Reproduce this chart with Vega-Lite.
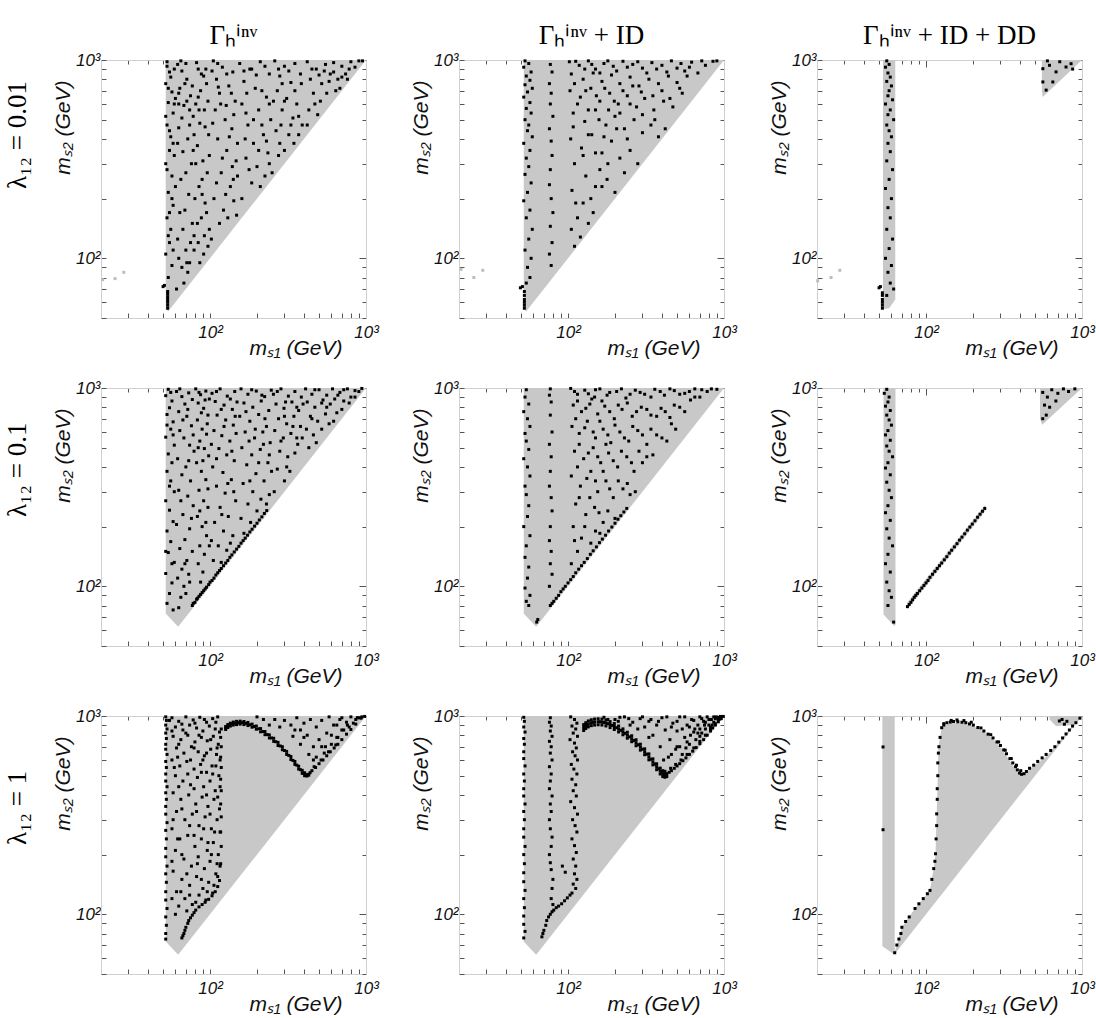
{
"$schema":"https://vega.github.io/schema/vega-lite/v6.json",
"background":"white",
"padding":{"left":4,"top":22,"right":5,"bottom":5},
"config":{"view":{"stroke":null},"axis":{"grid":false,"domainColor":"#d0d0d0","tickColor":"#555","labelFont":"Liberation Sans","labelFontStyle":"italic","labelFontSize":17,"labelColor":"#111","titleFont":"Liberation Sans","titleFontStyle":"italic","titleFontWeight":"normal","titleFontSize":21,"titleColor":"#111","labelOverlap":false,"labelFlush":false,"labelBound":false}},
"data":{"values":[
{"p":1,"a":1,"x":52,"lo":55.5,"hi":1000},{"p":1,"a":1,"x":54,"lo":54,"hi":1000},{"p":1,"a":1,"x":1000,"lo":1000,"hi":1000},
{"p":2,"a":1,"x":52,"lo":55.5,"hi":1000},{"p":2,"a":1,"x":54,"lo":54,"hi":1000},{"p":2,"a":1,"x":1000,"lo":1000,"hi":1000},
{"p":3,"a":1,"x":53,"lo":55.5,"hi":1000},{"p":3,"a":1,"x":58,"lo":56,"hi":1000},{"p":3,"a":1,"x":63.5,"lo":62,"hi":1000},
{"p":3,"a":2,"x":553,"lo":700,"hi":1000},{"p":3,"a":2,"x":560,"lo":650,"hi":1000},{"p":3,"a":2,"x":1000,"lo":1000,"hi":1000},
{"p":4,"a":1,"x":52,"lo":73,"hi":1000},{"p":4,"a":1,"x":62.5,"lo":62.5,"hi":1000},{"p":4,"a":1,"x":1000,"lo":1000,"hi":1000},
{"p":5,"a":1,"x":52,"lo":73,"hi":1000},{"p":5,"a":1,"x":62.5,"lo":62.5,"hi":1000},{"p":5,"a":1,"x":1000,"lo":1000,"hi":1000},
{"p":6,"a":1,"x":53.4,"lo":72,"hi":1000},{"p":6,"a":1,"x":62.5,"lo":63,"hi":1000},{"p":6,"a":1,"x":63.7,"lo":64,"hi":1000},
{"p":6,"a":2,"x":76,"lo":76.5,"hi":83},{"p":6,"a":2,"x":240,"lo":240,"hi":258},
{"p":6,"a":3,"x":538,"lo":700,"hi":1000},{"p":6,"a":3,"x":556,"lo":652,"hi":1000},{"p":6,"a":3,"x":1000,"lo":1000,"hi":1000},
{"p":7,"a":1,"x":52,"lo":73,"hi":1000},{"p":7,"a":1,"x":62.5,"lo":62.5,"hi":1000},{"p":7,"a":1,"x":1000,"lo":1000,"hi":1000},
{"p":8,"a":1,"x":52,"lo":73,"hi":1000},{"p":8,"a":1,"x":62.5,"lo":62.5,"hi":1000},{"p":8,"a":1,"x":1000,"lo":1000,"hi":1000},
{"p":9,"a":1,"x":52.5,"lo":69,"hi":1000},{"p":9,"a":1,"x":62,"lo":63,"hi":1000},{"p":9,"a":1,"x":63,"lo":64,"hi":1000},
{"p":9,"a":2,"x":62,"lo":62,"hi":62},{"p":9,"a":2,"x":67,"lo":67,"hi":76},{"p":9,"a":2,"x":70,"lo":70,"hi":86},{"p":9,"a":2,"x":85,"lo":85,"hi":107},{"p":9,"a":2,"x":106,"lo":106,"hi":132},{"p":9,"a":2,"x":112,"lo":112,"hi":170},{"p":9,"a":2,"x":115,"lo":115,"hi":202},{"p":9,"a":2,"x":117,"lo":117,"hi":321},{"p":9,"a":2,"x":119,"lo":119,"hi":500},{"p":9,"a":2,"x":120,"lo":120,"hi":693},{"p":9,"a":2,"x":126,"lo":126,"hi":873},{"p":9,"a":2,"x":143,"lo":143,"hi":925},{"p":9,"a":2,"x":170,"lo":170,"hi":920},{"p":9,"a":2,"x":201,"lo":201,"hi":891},{"p":9,"a":2,"x":235,"lo":235,"hi":830},{"p":9,"a":2,"x":269,"lo":269,"hi":764},{"p":9,"a":2,"x":300,"lo":300,"hi":695},{"p":9,"a":2,"x":328,"lo":328,"hi":629},{"p":9,"a":2,"x":360,"lo":360,"hi":565},{"p":9,"a":2,"x":398,"lo":398,"hi":509},{"p":9,"a":2,"x":415,"lo":415,"hi":505},{"p":9,"a":2,"x":461,"lo":461,"hi":540},{"p":9,"a":2,"x":589,"lo":589,"hi":625},{"p":9,"a":2,"x":751,"lo":751,"hi":775},{"p":9,"a":2,"x":914,"lo":914,"hi":930},{"p":9,"a":2,"x":1000,"lo":1000,"hi":1000},
{"p":9,"a":3,"x":620,"lo":960,"hi":1000},{"p":9,"a":3,"x":680,"lo":890,"hi":1000},{"p":9,"a":3,"x":900,"lo":900,"hi":1000},{"p":9,"a":3,"x":1000,"lo":1000,"hi":1000},
{"p":1,"x":20.5,"y":78,"g":1},{"p":1,"x":24.6,"y":79,"g":1},{"p":1,"x":28,"y":85,"g":1},
{"p":2,"x":20.6,"y":88,"g":1},{"p":2,"x":24.9,"y":80,"g":1},{"p":2,"x":28.4,"y":87,"g":1},
{"p":3,"x":20.2,"y":77,"g":1},{"p":3,"x":24.6,"y":80,"g":1},{"p":3,"x":28,"y":87,"g":1},
{"p":1,"x":53,"y":980},{"p":1,"x":55,"y":870},{"p":1,"x":52,"y":760},{"p":1,"x":57,"y":690},{"p":1,"x":54,"y":610},{"p":1,"x":58,"y":540},{"p":1,"x":53,"y":470},{"p":1,"x":56,"y":410},{"p":1,"x":55,"y":350},{"p":1,"x":52,"y":300},{"p":1,"x":57,"y":260},{"p":1,"x":54,"y":215},{"p":1,"x":58,"y":185},{"p":1,"x":53,"y":160},{"p":1,"x":56,"y":140},{"p":1,"x":55,"y":120},{"p":1,"x":52,"y":105},{"p":1,"x":57,"y":92},{"p":1,"x":54,"y":80},
{"p":1,"x":53.5,"y":56},{"p":1,"x":53.5,"y":58},{"p":1,"x":53.5,"y":60},{"p":1,"x":53.5,"y":62},{"p":1,"x":53.5,"y":64},{"p":1,"x":53.5,"y":66},{"p":1,"x":53.5,"y":68},{"p":1,"x":50,"y":72},{"p":1,"x":51,"y":73},
{"p":1,"x":62,"y":950},{"p":1,"x":66,"y":880},{"p":1,"x":71,"y":800},{"p":1,"x":64,"y":720},{"p":1,"x":75,"y":660},{"p":1,"x":68,"y":590},{"p":1,"x":78,"y":520},{"p":1,"x":63,"y":455},{"p":1,"x":72,"y":400},{"p":1,"x":67,"y":345},{"p":1,"x":76,"y":300},{"p":1,"x":65,"y":250},{"p":1,"x":73,"y":210},{"p":1,"x":69,"y":175},{"p":1,"x":77,"y":150},{"p":1,"x":62,"y":125},{"p":1,"x":70,"y":110},{"p":1,"x":66,"y":90},{"p":1,"x":74,"y":95},{"p":1,"x":79,"y":130},{"p":1,"x":61,"y":70},{"p":1,"x":68,"y":75},{"p":1,"x":72,"y":85},
{"p":1,"x":82,"y":970},{"p":1,"x":88,"y":850},{"p":1,"x":95,"y":760},{"p":1,"x":84,"y":650},{"p":1,"x":92,"y":560},{"p":1,"x":86,"y":480},{"p":1,"x":98,"y":420},{"p":1,"x":83,"y":370},{"p":1,"x":90,"y":310},{"p":1,"x":96,"y":270},{"p":1,"x":85,"y":230},{"p":1,"x":93,"y":190},{"p":1,"x":88,"y":160},{"p":1,"x":99,"y":140},{"p":1,"x":84,"y":120},{"p":1,"x":91,"y":105},{"p":1,"x":97,"y":115},{"p":1,"x":86,"y":95},
{"p":1,"x":105,"y":990},{"p":1,"x":120,"y":920},{"p":1,"x":140,"y":870},{"p":1,"x":110,"y":800},{"p":1,"x":132,"y":740},{"p":1,"x":115,"y":680},{"p":1,"x":145,"y":620},{"p":1,"x":108,"y":560},{"p":1,"x":125,"y":500},{"p":1,"x":138,"y":450},{"p":1,"x":112,"y":400},{"p":1,"x":128,"y":350},{"p":1,"x":147,"y":310},{"p":1,"x":118,"y":270},{"p":1,"x":135,"y":230},{"p":1,"x":106,"y":200},{"p":1,"x":122,"y":175},{"p":1,"x":142,"y":195},{"p":1,"x":115,"y":150},{"p":1,"x":130,"y":160},{"p":1,"x":102,"y":125},{"p":1,"x":148,"y":165},
{"p":1,"x":155,"y":960},{"p":1,"x":180,"y":900},{"p":1,"x":210,"y":980},{"p":1,"x":240,"y":850},{"p":1,"x":165,"y":780},{"p":1,"x":195,"y":720},{"p":1,"x":230,"y":650},{"p":1,"x":160,"y":600},{"p":1,"x":205,"y":560},{"p":1,"x":245,"y":500},{"p":1,"x":175,"y":470},{"p":1,"x":220,"y":420},{"p":1,"x":190,"y":380},{"p":1,"x":235,"y":340},{"p":1,"x":170,"y":320},{"p":1,"x":200,"y":290},{"p":1,"x":225,"y":260},{"p":1,"x":185,"y":240},{"p":1,"x":160,"y":200},{"p":1,"x":210,"y":230},{"p":1,"x":240,"y":300},{"p":1,"x":250,"y":270},
{"p":1,"x":260,"y":990},{"p":1,"x":300,"y":930},{"p":1,"x":350,"y":960},{"p":1,"x":280,"y":830},{"p":1,"x":330,"y":770},{"p":1,"x":380,"y":850},{"p":1,"x":270,"y":700},{"p":1,"x":310,"y":640},{"p":1,"x":360,"y":600},{"p":1,"x":290,"y":560},{"p":1,"x":340,"y":510},{"p":1,"x":390,"y":470},{"p":1,"x":265,"y":440},{"p":1,"x":320,"y":420},{"p":1,"x":370,"y":420},{"p":1,"x":300,"y":350},{"p":1,"x":345,"y":380},{"p":1,"x":275,"y":330},
{"p":1,"x":420,"y":980},{"p":1,"x":480,"y":900},{"p":1,"x":550,"y":950},{"p":1,"x":440,"y":800},{"p":1,"x":520,"y":760},{"p":1,"x":590,"y":850},{"p":1,"x":460,"y":680},{"p":1,"x":510,"y":620},{"p":1,"x":430,"y":560},{"p":1,"x":560,"y":680},{"p":1,"x":490,"y":530},{"p":1,"x":420,"y":470},
{"p":1,"x":620,"y":970},{"p":1,"x":700,"y":930},{"p":1,"x":800,"y":980},{"p":1,"x":900,"y":990},{"p":1,"x":660,"y":800},{"p":1,"x":740,"y":850},{"p":1,"x":640,"y":700},{"p":1,"x":680,"y":720},{"p":1,"x":850,"y":920},{"p":1,"x":760,"y":800},
{"p":1,"x":59,"y":900},{"p":1,"x":60,"y":640},{"p":1,"x":59,"y":330},{"p":1,"x":60,"y":230},{"p":1,"x":58,"y":110},{"p":1,"x":63,"y":600},{"p":1,"x":70,"y":960},{"p":1,"x":74,"y":560},{"p":1,"x":79,"y":420},{"p":1,"x":81,"y":600},{"p":1,"x":87,"y":700},{"p":1,"x":94,"y":900},{"p":1,"x":99,"y":330},{"p":1,"x":89,"y":250},{"p":1,"x":80,"y":200},{"p":1,"x":64,"y":170},{"p":1,"x":103,"y":880},{"p":1,"x":117,"y":600},{"p":1,"x":133,"y":410},{"p":1,"x":150,"y":380},{"p":1,"x":170,"y":540},{"p":1,"x":185,"y":900},{"p":1,"x":215,"y":700},{"p":1,"x":255,"y":620},{"p":1,"x":285,"y":470},{"p":1,"x":150,"y":260},
{"p":1,"x":53,"y":930},{"p":1,"x":56,"y":820},{"p":1,"x":54,"y":720},{"p":1,"x":59,"y":600},{"p":1,"x":52,"y":520},{"p":1,"x":55,"y":440},{"p":1,"x":58,"y":380},{"p":1,"x":53,"y":280},{"p":1,"x":57,"y":200},{"p":1,"x":55,"y":170},{"p":1,"x":54,"y":130},
{"p":1,"x":65,"y":990},{"p":1,"x":69,"y":760},{"p":1,"x":63,"y":680},{"p":1,"x":77,"y":740},{"p":1,"x":71,"y":620},{"p":1,"x":66,"y":510},{"p":1,"x":74,"y":470},{"p":1,"x":62,"y":380},{"p":1,"x":70,"y":270},{"p":1,"x":78,"y":350},{"p":1,"x":67,"y":140},{"p":1,"x":75,"y":120},{"p":1,"x":63,"y":100},{"p":1,"x":71,"y":95},{"p":1,"x":79,"y":110},
{"p":1,"x":84,"y":900},{"p":1,"x":91,"y":830},{"p":1,"x":97,"y":620},{"p":1,"x":85,"y":560},{"p":1,"x":93,"y":460},{"p":1,"x":81,"y":300},{"p":1,"x":89,"y":210},{"p":1,"x":95,"y":170},{"p":1,"x":83,"y":150},{"p":1,"x":92,"y":130},
{"p":1,"x":112,"y":960},{"p":1,"x":128,"y":850},{"p":1,"x":113,"y":730},{"p":1,"x":137,"y":680},{"p":1,"x":104,"y":480},{"p":1,"x":127,"y":590},{"p":1,"x":142,"y":530},{"p":1,"x":120,"y":320},{"p":1,"x":139,"y":290},{"p":1,"x":110,"y":240},{"p":1,"x":126,"y":210},{"p":1,"x":141,"y":250},
{"p":1,"x":165,"y":880},{"p":1,"x":198,"y":840},{"p":1,"x":225,"y":930},{"p":1,"x":172,"y":680},{"p":1,"x":240,"y":600},{"p":1,"x":190,"y":500},{"p":1,"x":215,"y":470},{"p":1,"x":168,"y":400},{"p":1,"x":205,"y":350},{"p":1,"x":178,"y":280},{"p":1,"x":230,"y":390},
{"p":1,"x":275,"y":900},{"p":1,"x":320,"y":880},{"p":1,"x":290,"y":760},{"p":1,"x":350,"y":700},{"p":1,"x":385,"y":760},{"p":1,"x":300,"y":620},{"p":1,"x":330,"y":470},{"p":1,"x":370,"y":520},{"p":1,"x":280,"y":380},
{"p":1,"x":450,"y":900},{"p":1,"x":500,"y":840},{"p":1,"x":580,"y":780},{"p":1,"x":540,"y":880},{"p":1,"x":470,"y":600},{"p":1,"x":620,"y":870},{"p":1,"x":700,"y":820},{"p":1,"x":780,"y":900},{"p":1,"x":950,"y":990},
{"p":2,"x":53,"y":990},{"p":2,"x":56,"y":960},{"p":2,"x":52,"y":920},{"p":2,"x":58,"y":870},{"p":2,"x":54,"y":830},{"p":2,"x":57,"y":790},{"p":2,"x":53,"y":750},{"p":2,"x":59,"y":720},{"p":2,"x":55,"y":690},{"p":2,"x":52,"y":650},{"p":2,"x":57,"y":610},{"p":2,"x":54,"y":570},{"p":2,"x":58,"y":540},{"p":2,"x":53,"y":500},{"p":2,"x":56,"y":470},{"p":2,"x":55,"y":440},{"p":2,"x":59,"y":410},{"p":2,"x":52,"y":380},{"p":2,"x":57,"y":350},{"p":2,"x":54,"y":320},{"p":2,"x":56,"y":290},{"p":2,"x":53,"y":265},{"p":2,"x":58,"y":240},{"p":2,"x":55,"y":215},{"p":2,"x":52,"y":195},{"p":2,"x":57,"y":175},{"p":2,"x":54,"y":160},{"p":2,"x":59,"y":140},{"p":2,"x":56,"y":125},{"p":2,"x":53,"y":110},{"p":2,"x":58,"y":100},{"p":2,"x":55,"y":90},{"p":2,"x":57,"y":80},{"p":2,"x":54,"y":75},
{"p":2,"x":52.5,"y":56},{"p":2,"x":52.5,"y":58},{"p":2,"x":52.5,"y":60},{"p":2,"x":52.5,"y":62},{"p":2,"x":52.5,"y":65},{"p":2,"x":52.5,"y":68},{"p":2,"x":51,"y":72},{"p":2,"x":49.5,"y":71},
{"p":2,"x":77,"y":950},{"p":2,"x":79,"y":870},{"p":2,"x":76,"y":760},{"p":2,"x":78,"y":680},{"p":2,"x":77,"y":600},{"p":2,"x":80,"y":520},{"p":2,"x":76,"y":450},{"p":2,"x":78,"y":390},{"p":2,"x":79,"y":330},{"p":2,"x":77,"y":280},{"p":2,"x":76,"y":235},{"p":2,"x":78,"y":200},{"p":2,"x":80,"y":170},{"p":2,"x":77,"y":145},{"p":2,"x":79,"y":120},{"p":2,"x":76,"y":105},{"p":2,"x":78,"y":92},
{"p":2,"x":102,"y":980},{"p":2,"x":118,"y":940},{"p":2,"x":135,"y":990},{"p":2,"x":150,"y":900},{"p":2,"x":170,"y":960},{"p":2,"x":195,"y":930},{"p":2,"x":225,"y":985},{"p":2,"x":260,"y":950},{"p":2,"x":300,"y":910},{"p":2,"x":345,"y":970},{"p":2,"x":400,"y":940},{"p":2,"x":460,"y":990},{"p":2,"x":530,"y":960},{"p":2,"x":620,"y":975},{"p":2,"x":720,"y":990},{"p":2,"x":850,"y":985},
{"p":2,"x":105,"y":850},{"p":2,"x":125,"y":800},{"p":2,"x":145,"y":860},{"p":2,"x":165,"y":780},{"p":2,"x":190,"y":840},{"p":2,"x":215,"y":760},{"p":2,"x":250,"y":820},{"p":2,"x":285,"y":740},{"p":2,"x":330,"y":800},{"p":2,"x":380,"y":760},{"p":2,"x":440,"y":830},{"p":2,"x":500,"y":770},{"p":2,"x":580,"y":830},{"p":2,"x":680,"y":860},
{"p":2,"x":103,"y":700},{"p":2,"x":120,"y":650},{"p":2,"x":140,"y":720},{"p":2,"x":160,"y":620},{"p":2,"x":185,"y":680},{"p":2,"x":210,"y":600},{"p":2,"x":240,"y":660},{"p":2,"x":275,"y":580},{"p":2,"x":310,"y":640},{"p":2,"x":355,"y":560},{"p":2,"x":410,"y":620},{"p":2,"x":470,"y":580},{"p":2,"x":540,"y":680},
{"p":2,"x":108,"y":540},{"p":2,"x":128,"y":490},{"p":2,"x":150,"y":560},{"p":2,"x":175,"y":470},{"p":2,"x":200,"y":520},{"p":2,"x":230,"y":450},{"p":2,"x":265,"y":500},{"p":2,"x":300,"y":430},{"p":2,"x":340,"y":470},{"p":2,"x":380,"y":410},{"p":2,"x":420,"y":450},
{"p":2,"x":104,"y":400},{"p":2,"x":122,"y":360},{"p":2,"x":142,"y":420},{"p":2,"x":165,"y":340},{"p":2,"x":190,"y":390},{"p":2,"x":215,"y":320},{"p":2,"x":250,"y":350},{"p":2,"x":280,"y":300},{"p":2,"x":160,"y":280},
{"p":2,"x":110,"y":300},{"p":2,"x":130,"y":260},{"p":2,"x":150,"y":230},{"p":2,"x":178,"y":250},{"p":2,"x":200,"y":215},{"p":2,"x":106,"y":220},{"p":2,"x":125,"y":190},{"p":2,"x":145,"y":170},{"p":2,"x":115,"y":160},{"p":2,"x":135,"y":150},{"p":2,"x":105,"y":140},{"p":2,"x":120,"y":128},{"p":2,"x":110,"y":115},
{"p":2,"x":112,"y":985},{"p":2,"x":128,"y":900},{"p":2,"x":142,"y":950},{"p":2,"x":160,"y":860},{"p":2,"x":180,"y":990},{"p":2,"x":205,"y":880},{"p":2,"x":240,"y":920},{"p":2,"x":280,"y":980},{"p":2,"x":320,"y":860},{"p":2,"x":370,"y":900},{"p":2,"x":430,"y":870},{"p":2,"x":500,"y":910},{"p":2,"x":560,"y":880},{"p":2,"x":600,"y":920},{"p":2,"x":760,"y":940},{"p":2,"x":900,"y":990},
{"p":2,"x":110,"y":760},{"p":2,"x":130,"y":700},{"p":2,"x":152,"y":660},{"p":2,"x":172,"y":720},{"p":2,"x":198,"y":620},{"p":2,"x":225,"y":700},{"p":2,"x":260,"y":740},{"p":2,"x":295,"y":690},{"p":2,"x":350,"y":660},{"p":2,"x":400,"y":700},{"p":2,"x":450,"y":640},{"p":2,"x":520,"y":720},
{"p":2,"x":115,"y":600},{"p":2,"x":135,"y":560},{"p":2,"x":158,"y":500},{"p":2,"x":182,"y":560},{"p":2,"x":215,"y":540},{"p":2,"x":250,"y":600},{"p":2,"x":300,"y":530},{"p":2,"x":360,"y":500},
{"p":2,"x":108,"y":460},{"p":2,"x":135,"y":420},{"p":2,"x":170,"y":410},{"p":2,"x":205,"y":450},{"p":2,"x":240,"y":400},{"p":2,"x":125,"y":330},{"p":2,"x":150,"y":340},{"p":2,"x":180,"y":300},{"p":2,"x":230,"y":270},{"p":2,"x":112,"y":190},{"p":2,"x":140,"y":200},{"p":2,"x":165,"y":230},
{"p":3,"x":56,"y":990},{"p":3,"x":58,"y":950},{"p":3,"x":55,"y":920},{"p":3,"x":57,"y":860},{"p":3,"x":59,"y":820},{"p":3,"x":56,"y":780},{"p":3,"x":60,"y":740},{"p":3,"x":58,"y":700},{"p":3,"x":57,"y":660},{"p":3,"x":61,"y":630},{"p":3,"x":55,"y":600},{"p":3,"x":59,"y":560},{"p":3,"x":57,"y":530},{"p":3,"x":62,"y":500},{"p":3,"x":56,"y":470},{"p":3,"x":58,"y":440},{"p":3,"x":60,"y":410},{"p":3,"x":57,"y":380},{"p":3,"x":59,"y":345},{"p":3,"x":56,"y":310},{"p":3,"x":61,"y":280},{"p":3,"x":58,"y":250},{"p":3,"x":55,"y":225},{"p":3,"x":60,"y":200},{"p":3,"x":57,"y":180},{"p":3,"x":59,"y":160},{"p":3,"x":56,"y":140},{"p":3,"x":61,"y":125},{"p":3,"x":58,"y":112},{"p":3,"x":55,"y":100},{"p":3,"x":60,"y":92},{"p":3,"x":57,"y":85},{"p":3,"x":59,"y":75},{"p":3,"x":62,"y":70},{"p":3,"x":56,"y":65},
{"p":3,"x":52.5,"y":56},{"p":3,"x":52.5,"y":58},{"p":3,"x":52.5,"y":60},{"p":3,"x":52.5,"y":62},{"p":3,"x":52.5,"y":65},{"p":3,"x":52.5,"y":67},{"p":3,"x":51,"y":72},{"p":3,"x":50,"y":71},
{"p":3,"x":561,"y":904},{"p":3,"x":619,"y":940},{"p":3,"x":682,"y":871},{"p":3,"x":790,"y":922},{"p":3,"x":851,"y":958},{"p":3,"x":650,"y":775},{"p":3,"x":871,"y":900},{"p":3,"x":561,"y":775},{"p":3,"x":589,"y":705},{"p":3,"x":600,"y":990},{"p":3,"x":720,"y":980},
{"p":4,"x":54,"y":985},{"p":4,"x":52,"y":915},{"p":4,"x":57,"y":860},{"p":4,"x":55,"y":795},{"p":4,"x":53,"y":735},{"p":4,"x":58,"y":675},{"p":4,"x":56,"y":620},{"p":4,"x":52,"y":565},{"p":4,"x":59,"y":515},{"p":4,"x":54,"y":465},{"p":4,"x":57,"y":420},{"p":4,"x":53,"y":380},{"p":4,"x":56,"y":340},{"p":4,"x":59,"y":300},{"p":4,"x":52,"y":270},{"p":4,"x":55,"y":242},{"p":4,"x":58,"y":212},{"p":4,"x":53,"y":190},{"p":4,"x":56,"y":168},{"p":4,"x":54,"y":148},{"p":4,"x":59,"y":132},{"p":4,"x":52,"y":116},{"p":4,"x":57,"y":104},{"p":4,"x":55,"y":92},{"p":4,"x":53,"y":82},{"p":4,"x":58,"y":76},
{"p":4,"x":61,"y":960},{"p":4,"x":66,"y":905},{"p":4,"x":73,"y":945},{"p":4,"x":69,"y":830},{"p":4,"x":77,"y":875},{"p":4,"x":63,"y":760},{"p":4,"x":71,"y":720},{"p":4,"x":76,"y":645},{"p":4,"x":64,"y":610},{"p":4,"x":68,"y":560},{"p":4,"x":74,"y":515},{"p":4,"x":79,"y":480},{"p":4,"x":62,"y":440},{"p":4,"x":70,"y":400},{"p":4,"x":66,"y":365},{"p":4,"x":75,"y":340},{"p":4,"x":63,"y":305},{"p":4,"x":72,"y":285},{"p":4,"x":78,"y":255},{"p":4,"x":67,"y":230},{"p":4,"x":61,"y":205},{"p":4,"x":74,"y":195},{"p":4,"x":69,"y":172},{"p":4,"x":64,"y":155},{"p":4,"x":77,"y":150},{"p":4,"x":71,"y":135},{"p":4,"x":66,"y":122},{"p":4,"x":62,"y":110},{"p":4,"x":73,"y":115},{"p":4,"x":68,"y":100},{"p":4,"x":65,"y":88},{"p":4,"x":70,"y":92},{"p":4,"x":63,"y":78},
{"p":4,"x":81,"y":990},{"p":4,"x":87,"y":925},{"p":4,"x":94,"y":965},{"p":4,"x":99,"y":880},{"p":4,"x":84,"y":840},{"p":4,"x":91,"y":790},{"p":4,"x":97,"y":730},{"p":4,"x":83,"y":690},{"p":4,"x":89,"y":620},{"p":4,"x":95,"y":585},{"p":4,"x":86,"y":540},{"p":4,"x":92,"y":495},{"p":4,"x":98,"y":455},{"p":4,"x":82,"y":420},{"p":4,"x":88,"y":380},{"p":4,"x":94,"y":345},{"p":4,"x":85,"y":305},{"p":4,"x":91,"y":270},{"p":4,"x":97,"y":250},{"p":4,"x":83,"y":225},{"p":4,"x":89,"y":200},{"p":4,"x":95,"y":180},{"p":4,"x":86,"y":160},{"p":4,"x":92,"y":145},{"p":4,"x":84,"y":130},{"p":4,"x":90,"y":118},{"p":4,"x":87,"y":105},
{"p":4,"x":103,"y":940},{"p":4,"x":116,"y":990},{"p":4,"x":129,"y":910},{"p":4,"x":144,"y":960},{"p":4,"x":108,"y":855},{"p":4,"x":123,"y":820},{"p":4,"x":139,"y":780},{"p":4,"x":149,"y":850},{"p":4,"x":111,"y":730},{"p":4,"x":126,"y":690},{"p":4,"x":141,"y":650},{"p":4,"x":106,"y":610},{"p":4,"x":119,"y":575},{"p":4,"x":134,"y":540},{"p":4,"x":147,"y":590},{"p":4,"x":114,"y":495},{"p":4,"x":128,"y":460},{"p":4,"x":143,"y":430},{"p":4,"x":104,"y":400},{"p":4,"x":121,"y":375},{"p":4,"x":137,"y":345},{"p":4,"x":110,"y":320},{"p":4,"x":125,"y":295},{"p":4,"x":146,"y":270},{"p":4,"x":116,"y":250},{"p":4,"x":131,"y":225},{"p":4,"x":107,"y":210},{"p":4,"x":122,"y":190},{"p":4,"x":140,"y":180},{"p":4,"x":113,"y":160},{"p":4,"x":128,"y":152},{"p":4,"x":105,"y":135},{"p":4,"x":118,"y":132},{"p":4,"x":135,"y":165},
{"p":4,"x":158,"y":990},{"p":4,"x":175,"y":930},{"p":4,"x":198,"y":965},{"p":4,"x":224,"y":905},{"p":4,"x":247,"y":975},{"p":4,"x":165,"y":840},{"p":4,"x":188,"y":800},{"p":4,"x":213,"y":860},{"p":4,"x":238,"y":770},{"p":4,"x":155,"y":720},{"p":4,"x":180,"y":680},{"p":4,"x":205,"y":735},{"p":4,"x":230,"y":640},{"p":4,"x":168,"y":600},{"p":4,"x":193,"y":560},{"p":4,"x":218,"y":600},{"p":4,"x":243,"y":530},{"p":4,"x":160,"y":500},{"p":4,"x":185,"y":460},{"p":4,"x":210,"y":490},{"p":4,"x":235,"y":420},{"p":4,"x":172,"y":410},{"p":4,"x":197,"y":370},{"p":4,"x":222,"y":340},{"p":4,"x":248,"y":380},{"p":4,"x":163,"y":330},{"p":4,"x":188,"y":300},{"p":4,"x":212,"y":275},{"p":4,"x":240,"y":290},{"p":4,"x":175,"y":260},{"p":4,"x":200,"y":240},{"p":4,"x":158,"y":220},{"p":4,"x":182,"y":210},{"p":4,"x":165,"y":185},
{"p":4,"x":255,"y":930},{"p":4,"x":285,"y":990},{"p":4,"x":318,"y":910},{"p":4,"x":350,"y":960},{"p":4,"x":385,"y":900},{"p":4,"x":265,"y":830},{"p":4,"x":298,"y":790},{"p":4,"x":335,"y":850},{"p":4,"x":370,"y":770},{"p":4,"x":395,"y":830},{"p":4,"x":275,"y":700},{"p":4,"x":310,"y":660},{"p":4,"x":345,"y":720},{"p":4,"x":380,"y":640},{"p":4,"x":260,"y":610},{"p":4,"x":295,"y":560},{"p":4,"x":330,"y":590},{"p":4,"x":365,"y":520},{"p":4,"x":390,"y":560},{"p":4,"x":280,"y":480},{"p":4,"x":315,"y":450},{"p":4,"x":350,"y":470},{"p":4,"x":270,"y":390},{"p":4,"x":300,"y":340},{"p":4,"x":325,"y":380},{"p":4,"x":258,"y":300},
{"p":4,"x":410,"y":990},{"p":4,"x":450,"y":930},{"p":4,"x":500,"y":980},{"p":4,"x":560,"y":920},{"p":4,"x":420,"y":850},{"p":4,"x":470,"y":800},{"p":4,"x":530,"y":870},{"p":4,"x":590,"y":830},{"p":4,"x":440,"y":720},{"p":4,"x":490,"y":680},{"p":4,"x":550,"y":740},{"p":4,"x":415,"y":620},{"p":4,"x":460,"y":580},{"p":4,"x":520,"y":620},{"p":4,"x":580,"y":660},{"p":4,"x":430,"y":500},{"p":4,"x":480,"y":530},
{"p":4,"x":610,"y":990},{"p":4,"x":680,"y":950},{"p":4,"x":760,"y":990},{"p":4,"x":850,"y":970},{"p":4,"x":940,"y":995},{"p":4,"x":630,"y":880},{"p":4,"x":720,"y":860},{"p":4,"x":800,"y":900},{"p":4,"x":900,"y":960},{"p":4,"x":650,"y":750},{"p":4,"x":700,"y":780},{"p":4,"x":620,"y":680},{"p":4,"x":780,"y":840},
{"p":4,"x":56,"y":950},{"p":4,"x":53,"y":650},{"p":4,"x":58,"y":580},{"p":4,"x":55,"y":320},{"p":4,"x":52,"y":150},{"p":4,"x":57,"y":130},
{"p":4,"x":64,"y":990},{"p":4,"x":72,"y":780},{"p":4,"x":67,"y":690},{"p":4,"x":78,"y":580},{"p":4,"x":73,"y":430},{"p":4,"x":65,"y":270},{"p":4,"x":76,"y":220},{"p":4,"x":69,"y":130},{"p":4,"x":74,"y":105},
{"p":4,"x":85,"y":950},{"p":4,"x":93,"y":870},{"p":4,"x":88,"y":750},{"p":4,"x":96,"y":660},{"p":4,"x":84,"y":500},{"p":4,"x":90,"y":430},{"p":4,"x":97,"y":310},{"p":4,"x":86,"y":240},{"p":4,"x":94,"y":210},{"p":4,"x":99,"y":160},
{"p":4,"x":110,"y":960},{"p":4,"x":135,"y":880},{"p":4,"x":118,"y":780},{"p":4,"x":145,"y":720},{"p":4,"x":123,"y":640},{"p":4,"x":102,"y":520},{"p":4,"x":138,"y":480},{"p":4,"x":110,"y":440},{"p":4,"x":130,"y":330},{"p":4,"x":142,"y":300},{"p":4,"x":119,"y":230},{"p":4,"x":102,"y":170},
{"p":4,"x":185,"y":980},{"p":4,"x":215,"y":920},{"p":4,"x":170,"y":760},{"p":4,"x":225,"y":700},{"p":4,"x":195,"y":620},{"p":4,"x":178,"y":540},{"p":4,"x":220,"y":520},{"p":4,"x":240,"y":460},{"p":4,"x":205,"y":420},{"p":4,"x":180,"y":340},{"p":4,"x":230,"y":260},
{"p":4,"x":270,"y":960},{"p":4,"x":305,"y":850},{"p":4,"x":360,"y":800},{"p":4,"x":300,"y":720},{"p":4,"x":340,"y":640},{"p":4,"x":285,"y":540},{"p":4,"x":360,"y":560},{"p":4,"x":310,"y":400},
{"p":4,"x":470,"y":980},{"p":4,"x":520,"y":840},{"p":4,"x":450,"y":700},{"p":4,"x":560,"y":800},{"p":4,"x":660,"y":920},{"p":4,"x":720,"y":980},{"p":4,"x":850,"y":900},
{"p":4,"x":77,"y":80},{"p":4,"x":78,"y":82},{"p":4,"x":80,"y":83},{"p":4,"x":82,"y":86},{"p":4,"x":83,"y":87},{"p":4,"x":85,"y":89},{"p":4,"x":87,"y":91},{"p":4,"x":89,"y":93},{"p":4,"x":91,"y":95},{"p":4,"x":93,"y":97},{"p":4,"x":95,"y":99},{"p":4,"x":98,"y":102},{"p":4,"x":100,"y":105},{"p":4,"x":103,"y":107},{"p":4,"x":106,"y":110},{"p":4,"x":109,"y":114},{"p":4,"x":112,"y":117},{"p":4,"x":115,"y":120},{"p":4,"x":118,"y":123},{"p":4,"x":122,"y":127},{"p":4,"x":126,"y":131},{"p":4,"x":130,"y":135},{"p":4,"x":134,"y":140},{"p":4,"x":138,"y":144},{"p":4,"x":143,"y":149},{"p":4,"x":148,"y":154},{"p":4,"x":153,"y":159},{"p":4,"x":158,"y":165},{"p":4,"x":163,"y":170},{"p":4,"x":168,"y":175},{"p":4,"x":174,"y":181},{"p":4,"x":180,"y":188},{"p":4,"x":186,"y":194},{"p":4,"x":193,"y":201},{"p":4,"x":200,"y":208},{"p":4,"x":207,"y":216},{"p":4,"x":215,"y":224},{"p":4,"x":223,"y":233},{"p":4,"x":231,"y":241},
{"p":5,"x":54,"y":980},{"p":5,"x":53,"y":900},{"p":5,"x":56,"y":830},{"p":5,"x":52,"y":760},{"p":5,"x":55,"y":700},{"p":5,"x":57,"y":640},{"p":5,"x":53,"y":590},{"p":5,"x":54,"y":540},{"p":5,"x":56,"y":490},{"p":5,"x":52,"y":440},{"p":5,"x":55,"y":400},{"p":5,"x":57,"y":360},{"p":5,"x":53,"y":320},{"p":5,"x":54,"y":290},{"p":5,"x":56,"y":255},{"p":5,"x":55,"y":225},{"p":5,"x":52,"y":200},{"p":5,"x":57,"y":180},{"p":5,"x":54,"y":160},{"p":5,"x":53,"y":140},{"p":5,"x":56,"y":125},{"p":5,"x":55,"y":110},{"p":5,"x":53,"y":98},{"p":5,"x":57,"y":90},{"p":5,"x":54,"y":84},{"p":5,"x":56,"y":80},{"p":5,"x":63,"y":66},{"p":5,"x":64,"y":68},
{"p":5,"x":77,"y":990},{"p":5,"x":76,"y":920},{"p":5,"x":78,"y":850},{"p":5,"x":77,"y":730},{"p":5,"x":79,"y":600},{"p":5,"x":76,"y":520},{"p":5,"x":78,"y":450},{"p":5,"x":77,"y":380},{"p":5,"x":76,"y":320},{"p":5,"x":78,"y":280},{"p":5,"x":79,"y":240},{"p":5,"x":77,"y":200},{"p":5,"x":76,"y":170},{"p":5,"x":78,"y":150},{"p":5,"x":77,"y":130},{"p":5,"x":79,"y":115},{"p":5,"x":76,"y":100},
{"p":5,"x":104,"y":995},{"p":5,"x":115,"y":930},{"p":5,"x":128,"y":975},{"p":5,"x":142,"y":880},{"p":5,"x":160,"y":990},{"p":5,"x":178,"y":920},{"p":5,"x":205,"y":960},{"p":5,"x":235,"y":890},{"p":5,"x":270,"y":975},{"p":5,"x":310,"y":930},{"p":5,"x":360,"y":985},{"p":5,"x":415,"y":920},{"p":5,"x":480,"y":970},{"p":5,"x":560,"y":940},{"p":5,"x":650,"y":990},{"p":5,"x":780,"y":960},{"p":5,"x":900,"y":985},
{"p":5,"x":108,"y":820},{"p":5,"x":122,"y":760},{"p":5,"x":138,"y":830},{"p":5,"x":155,"y":740},{"p":5,"x":172,"y":810},{"p":5,"x":198,"y":700},{"p":5,"x":222,"y":780},{"p":5,"x":258,"y":720},{"p":5,"x":295,"y":800},{"p":5,"x":340,"y":730},{"p":5,"x":395,"y":790},{"p":5,"x":450,"y":710},{"p":5,"x":520,"y":800},{"p":5,"x":610,"y":870},{"p":5,"x":700,"y":900},
{"p":5,"x":106,"y":640},{"p":5,"x":118,"y":590},{"p":5,"x":133,"y":680},{"p":5,"x":150,"y":560},{"p":5,"x":168,"y":620},{"p":5,"x":188,"y":530},{"p":5,"x":215,"y":600},{"p":5,"x":245,"y":540},{"p":5,"x":280,"y":610},{"p":5,"x":320,"y":520},{"p":5,"x":370,"y":580},{"p":5,"x":430,"y":540},{"p":5,"x":490,"y":620},
{"p":5,"x":110,"y":480},{"p":5,"x":126,"y":440},{"p":5,"x":145,"y":500},{"p":5,"x":162,"y":420},{"p":5,"x":182,"y":470},{"p":5,"x":208,"y":400},{"p":5,"x":238,"y":450},{"p":5,"x":265,"y":380},{"p":5,"x":300,"y":420},{"p":5,"x":350,"y":460},
{"p":5,"x":105,"y":360},{"p":5,"x":120,"y":320},{"p":5,"x":140,"y":380},{"p":5,"x":155,"y":300},{"p":5,"x":175,"y":340},{"p":5,"x":195,"y":280},{"p":5,"x":225,"y":310},{"p":5,"x":250,"y":290},
{"p":5,"x":112,"y":260},{"p":5,"x":130,"y":230},{"p":5,"x":148,"y":250},{"p":5,"x":168,"y":210},{"p":5,"x":108,"y":200},{"p":5,"x":122,"y":175},{"p":5,"x":140,"y":165},{"p":5,"x":115,"y":150},{"p":5,"x":105,"y":130},{"p":5,"x":160,"y":185},
{"p":5,"x":110,"y":960},{"p":5,"x":135,"y":935},{"p":5,"x":150,"y":980},{"p":5,"x":185,"y":950},{"p":5,"x":220,"y":990},{"p":5,"x":250,"y":930},{"p":5,"x":290,"y":950},{"p":5,"x":340,"y":900},{"p":5,"x":390,"y":960},{"p":5,"x":450,"y":990},{"p":5,"x":520,"y":930},{"p":5,"x":600,"y":960},{"p":5,"x":720,"y":980},{"p":5,"x":830,"y":990},
{"p":5,"x":115,"y":860},{"p":5,"x":130,"y":790},{"p":5,"x":148,"y":900},{"p":5,"x":165,"y":860},{"p":5,"x":185,"y":760},{"p":5,"x":210,"y":820},{"p":5,"x":240,"y":840},{"p":5,"x":275,"y":760},{"p":5,"x":320,"y":780},{"p":5,"x":370,"y":720},{"p":5,"x":420,"y":760},{"p":5,"x":480,"y":820},{"p":5,"x":560,"y":760},{"p":5,"x":650,"y":900},
{"p":5,"x":112,"y":700},{"p":5,"x":128,"y":630},{"p":5,"x":145,"y":600},{"p":5,"x":160,"y":680},{"p":5,"x":180,"y":580},{"p":5,"x":200,"y":650},{"p":5,"x":230,"y":560},{"p":5,"x":260,"y":640},{"p":5,"x":300,"y":580},{"p":5,"x":340,"y":620},{"p":5,"x":400,"y":560},{"p":5,"x":460,"y":660},
{"p":5,"x":118,"y":520},{"p":5,"x":135,"y":470},{"p":5,"x":155,"y":450},{"p":5,"x":175,"y":520},{"p":5,"x":195,"y":430},{"p":5,"x":220,"y":480},{"p":5,"x":255,"y":420},{"p":5,"x":285,"y":480},{"p":5,"x":320,"y":450},
{"p":5,"x":115,"y":400},{"p":5,"x":132,"y":350},{"p":5,"x":150,"y":340},{"p":5,"x":168,"y":380},{"p":5,"x":185,"y":310},{"p":5,"x":210,"y":340},{"p":5,"x":240,"y":330},{"p":5,"x":270,"y":300},
{"p":5,"x":118,"y":280},{"p":5,"x":138,"y":280},{"p":5,"x":158,"y":235},{"p":5,"x":180,"y":240},{"p":5,"x":200,"y":220},{"p":5,"x":128,"y":200},{"p":5,"x":150,"y":190},{"p":5,"x":110,"y":170},
{"p":5,"x":77,"y":80},{"p":5,"x":79,"y":82},{"p":5,"x":81,"y":84},{"p":5,"x":84,"y":87},{"p":5,"x":87,"y":90},{"p":5,"x":90,"y":94},{"p":5,"x":93,"y":97},{"p":5,"x":96,"y":100},{"p":5,"x":100,"y":104},{"p":5,"x":104,"y":108},{"p":5,"x":108,"y":112},{"p":5,"x":112,"y":117},{"p":5,"x":117,"y":122},{"p":5,"x":122,"y":127},{"p":5,"x":127,"y":132},{"p":5,"x":133,"y":138},{"p":5,"x":139,"y":145},{"p":5,"x":145,"y":151},{"p":5,"x":152,"y":158},{"p":5,"x":159,"y":166},{"p":5,"x":166,"y":173},{"p":5,"x":174,"y":181},{"p":5,"x":182,"y":190},{"p":5,"x":191,"y":199},{"p":5,"x":200,"y":208},{"p":5,"x":209,"y":218},{"p":5,"x":218,"y":227},{"p":5,"x":228,"y":237},{"p":5,"x":238,"y":247},
{"p":6,"x":56,"y":985},{"p":6,"x":54,"y":940},{"p":6,"x":58,"y":900},{"p":6,"x":57,"y":850},{"p":6,"x":55,"y":810},{"p":6,"x":59,"y":770},{"p":6,"x":56,"y":730},{"p":6,"x":58,"y":690},{"p":6,"x":60,"y":650},{"p":6,"x":57,"y":610},{"p":6,"x":55,"y":580},{"p":6,"x":59,"y":545},{"p":6,"x":56,"y":510},{"p":6,"x":58,"y":480},{"p":6,"x":61,"y":450},{"p":6,"x":57,"y":420},{"p":6,"x":55,"y":395},{"p":6,"x":59,"y":365},{"p":6,"x":56,"y":335},{"p":6,"x":58,"y":305},{"p":6,"x":60,"y":280},{"p":6,"x":57,"y":255},{"p":6,"x":55,"y":235},{"p":6,"x":59,"y":215},{"p":6,"x":56,"y":195},{"p":6,"x":58,"y":175},{"p":6,"x":61,"y":160},{"p":6,"x":57,"y":145},{"p":6,"x":55,"y":130},{"p":6,"x":59,"y":118},{"p":6,"x":56,"y":105},{"p":6,"x":58,"y":95},{"p":6,"x":60,"y":88},{"p":6,"x":57,"y":80},{"p":6,"x":62,"y":66},
{"p":6,"x":76,"y":79},{"p":6,"x":78,"y":81},{"p":6,"x":80,"y":83},{"p":6,"x":82,"y":85.5},{"p":6,"x":84,"y":88},{"p":6,"x":86,"y":90},{"p":6,"x":88,"y":92},{"p":6,"x":91,"y":95},{"p":6,"x":94,"y":98},{"p":6,"x":97,"y":101},{"p":6,"x":100,"y":104},{"p":6,"x":103,"y":107},{"p":6,"x":106,"y":111},{"p":6,"x":110,"y":115},{"p":6,"x":114,"y":119},{"p":6,"x":118,"y":123},{"p":6,"x":122,"y":127},{"p":6,"x":126,"y":131},{"p":6,"x":131,"y":136},{"p":6,"x":136,"y":141},{"p":6,"x":141,"y":147},{"p":6,"x":146,"y":152},{"p":6,"x":152,"y":158},{"p":6,"x":158,"y":164},{"p":6,"x":164,"y":171},{"p":6,"x":170,"y":177},{"p":6,"x":177,"y":184},{"p":6,"x":184,"y":192},{"p":6,"x":191,"y":199},{"p":6,"x":198,"y":206},{"p":6,"x":206,"y":214},{"p":6,"x":214,"y":223},{"p":6,"x":222,"y":231},{"p":6,"x":230,"y":239},{"p":6,"x":238,"y":247},
{"p":6,"x":560,"y":950},{"p":6,"x":600,"y":900},{"p":6,"x":640,"y":980},{"p":6,"x":700,"y":940},{"p":6,"x":760,"y":990},{"p":6,"x":820,"y":960},{"p":6,"x":575,"y":820},{"p":6,"x":620,"y":800},{"p":6,"x":590,"y":730},{"p":6,"x":560,"y":700},{"p":6,"x":900,"y":990},{"p":6,"x":680,"y":860},
{"p":7,"x":52,"y":990},{"p":7,"x":52.5,"y":950},{"p":7,"x":52,"y":900},{"p":7,"x":53,"y":860},{"p":7,"x":52,"y":820},{"p":7,"x":52.5,"y":770},{"p":7,"x":52,"y":720},{"p":7,"x":52,"y":680},{"p":7,"x":53,"y":640},{"p":7,"x":52,"y":590},{"p":7,"x":52.5,"y":550},{"p":7,"x":52,"y":510},{"p":7,"x":52,"y":470},{"p":7,"x":53,"y":440},{"p":7,"x":52,"y":410},{"p":7,"x":52.5,"y":380},{"p":7,"x":52,"y":350},{"p":7,"x":52,"y":320},{"p":7,"x":53,"y":290},{"p":7,"x":52,"y":265},{"p":7,"x":52.5,"y":240},{"p":7,"x":52,"y":215},{"p":7,"x":52,"y":195},{"p":7,"x":53,"y":175},{"p":7,"x":52,"y":160},{"p":7,"x":52.5,"y":145},{"p":7,"x":52,"y":130},{"p":7,"x":52,"y":118},{"p":7,"x":53,"y":107},{"p":7,"x":52,"y":97},{"p":7,"x":52.5,"y":88},{"p":7,"x":52,"y":80},{"p":7,"x":52,"y":75},
{"p":7,"x":57,"y":980},{"p":7,"x":63,"y":940},{"p":7,"x":70,"y":990},{"p":7,"x":78,"y":955},{"p":7,"x":86,"y":985},{"p":7,"x":95,"y":930},{"p":7,"x":104,"y":970},{"p":7,"x":112,"y":990},
{"p":7,"x":60,"y":880},{"p":7,"x":67,"y":850},{"p":7,"x":74,"y":900},{"p":7,"x":82,"y":870},{"p":7,"x":90,"y":840},{"p":7,"x":99,"y":890},{"p":7,"x":108,"y":860},{"p":7,"x":115,"y":830},
{"p":7,"x":58,"y":790},{"p":7,"x":65,"y":760},{"p":7,"x":72,"y":800},{"p":7,"x":80,"y":740},{"p":7,"x":88,"y":780},{"p":7,"x":96,"y":750},{"p":7,"x":105,"y":790},{"p":7,"x":113,"y":720},
{"p":7,"x":61,"y":690},{"p":7,"x":68,"y":650},{"p":7,"x":76,"y":700},{"p":7,"x":84,"y":660},{"p":7,"x":92,"y":630},{"p":7,"x":101,"y":680},{"p":7,"x":110,"y":640},{"p":7,"x":116,"y":600},
{"p":7,"x":57,"y":600},{"p":7,"x":64,"y":560},{"p":7,"x":71,"y":590},{"p":7,"x":79,"y":540},{"p":7,"x":87,"y":570},{"p":7,"x":95,"y":520},{"p":7,"x":103,"y":560},{"p":7,"x":114,"y":500},
{"p":7,"x":60,"y":500},{"p":7,"x":67,"y":470},{"p":7,"x":75,"y":450},{"p":7,"x":83,"y":490},{"p":7,"x":91,"y":440},{"p":7,"x":100,"y":470},{"p":7,"x":108,"y":420},{"p":7,"x":116,"y":440},
{"p":7,"x":58,"y":410},{"p":7,"x":65,"y":380},{"p":7,"x":73,"y":400},{"p":7,"x":81,"y":360},{"p":7,"x":89,"y":390},{"p":7,"x":97,"y":350},{"p":7,"x":106,"y":380},{"p":7,"x":115,"y":340},
{"p":7,"x":61,"y":330},{"p":7,"x":69,"y":300},{"p":7,"x":77,"y":320},{"p":7,"x":85,"y":280},{"p":7,"x":93,"y":310},{"p":7,"x":102,"y":270},{"p":7,"x":111,"y":300},{"p":7,"x":116,"y":260},
{"p":7,"x":57,"y":270},{"p":7,"x":64,"y":240},{"p":7,"x":72,"y":250},{"p":7,"x":80,"y":220},{"p":7,"x":88,"y":240},{"p":7,"x":96,"y":210},{"p":7,"x":105,"y":230},{"p":7,"x":113,"y":200},
{"p":7,"x":60,"y":210},{"p":7,"x":68,"y":190},{"p":7,"x":76,"y":175},{"p":7,"x":84,"y":195},{"p":7,"x":92,"y":170},{"p":7,"x":100,"y":185},{"p":7,"x":109,"y":160},{"p":7,"x":116,"y":175},
{"p":7,"x":58,"y":165},{"p":7,"x":66,"y":150},{"p":7,"x":74,"y":140},{"p":7,"x":82,"y":155},{"p":7,"x":90,"y":135},{"p":7,"x":98,"y":145},{"p":7,"x":104,"y":128},{"p":7,"x":112,"y":155},
{"p":7,"x":61,"y":130},{"p":7,"x":69,"y":120},{"p":7,"x":77,"y":112},{"p":7,"x":85,"y":125},{"p":7,"x":94,"y":118},{"p":7,"x":63,"y":110},{"p":7,"x":71,"y":104},{"p":7,"x":60,"y":100},
{"p":7,"x":55,"y":950},{"p":7,"x":66,"y":910},{"p":7,"x":80,"y":920},{"p":7,"x":92,"y":960},{"p":7,"x":109,"y":930},{"p":7,"x":57,"y":840},{"p":7,"x":70,"y":820},{"p":7,"x":85,"y":800},{"p":7,"x":101,"y":760},{"p":7,"x":63,"y":720},{"p":7,"x":79,"y":690},{"p":7,"x":95,"y":650},{"p":7,"x":111,"y":690},{"p":7,"x":62,"y":620},{"p":7,"x":75,"y":600},{"p":7,"x":90,"y":600},{"p":7,"x":109,"y":560},{"p":7,"x":59,"y":550},{"p":7,"x":72,"y":510},{"p":7,"x":88,"y":520},{"p":7,"x":104,"y":510},{"p":7,"x":63,"y":440},{"p":7,"x":79,"y":430},{"p":7,"x":95,"y":400},{"p":7,"x":112,"y":390},{"p":7,"x":66,"y":340},{"p":7,"x":82,"y":330},{"p":7,"x":100,"y":320},{"p":7,"x":58,"y":300},{"p":7,"x":74,"y":280},{"p":7,"x":91,"y":270},{"p":7,"x":107,"y":260},{"p":7,"x":62,"y":240},{"p":7,"x":79,"y":250},{"p":7,"x":97,"y":230},{"p":7,"x":66,"y":200},{"p":7,"x":83,"y":180},{"p":7,"x":102,"y":200},{"p":7,"x":111,"y":180},{"p":7,"x":57,"y":185},{"p":7,"x":71,"y":160},{"p":7,"x":88,"y":150},{"p":7,"x":96,"y":130},{"p":7,"x":65,"y":130},{"p":7,"x":81,"y":115},{"p":7,"x":106,"y":140},{"p":7,"x":57,"y":120},{"p":7,"x":74,"y":125},
{"p":7,"x":66,"y":76},{"p":7,"x":67,"y":78},{"p":7,"x":68,"y":80},{"p":7,"x":69,"y":83},{"p":7,"x":70,"y":86},{"p":7,"x":72,"y":90},{"p":7,"x":73,"y":93},{"p":7,"x":75,"y":96},{"p":7,"x":77,"y":99},{"p":7,"x":79,"y":102},{"p":7,"x":81,"y":105},{"p":7,"x":85,"y":109},{"p":7,"x":89,"y":112},{"p":7,"x":93,"y":115},{"p":7,"x":98,"y":119},{"p":7,"x":103,"y":124},{"p":7,"x":108,"y":130},{"p":7,"x":112,"y":138},{"p":7,"x":115,"y":148},
{"p":7,"x":117,"y":180},{"p":7,"x":118,"y":220},{"p":7,"x":117,"y":260},{"p":7,"x":118,"y":310},{"p":7,"x":117,"y":360},{"p":7,"x":118,"y":420},{"p":7,"x":117,"y":480},{"p":7,"x":118,"y":550},{"p":7,"x":117,"y":620},{"p":7,"x":118,"y":700},{"p":7,"x":117,"y":780},{"p":7,"x":118,"y":860},
{"p":7,"x":126,"y":855},{"p":7,"x":126,"y":885},{"p":7,"x":130,"y":875},{"p":7,"x":130,"y":905},{"p":7,"x":135,"y":890},{"p":7,"x":135,"y":920},{"p":7,"x":141,"y":900},{"p":7,"x":141,"y":932},{"p":7,"x":148,"y":905},{"p":7,"x":148,"y":940},{"p":7,"x":156,"y":910},{"p":7,"x":156,"y":942},{"p":7,"x":165,"y":905},{"p":7,"x":165,"y":938},{"p":7,"x":175,"y":895},{"p":7,"x":175,"y":928},{"p":7,"x":186,"y":878},{"p":7,"x":186,"y":910},{"p":7,"x":198,"y":858},{"p":7,"x":198,"y":890},{"p":7,"x":211,"y":832},{"p":7,"x":211,"y":864},{"p":7,"x":225,"y":805},{"p":7,"x":225,"y":835},{"p":7,"x":240,"y":775},{"p":7,"x":240,"y":803},{"p":7,"x":256,"y":745},{"p":7,"x":256,"y":772},{"p":7,"x":273,"y":710},{"p":7,"x":273,"y":736},{"p":7,"x":291,"y":676},{"p":7,"x":291,"y":700},{"p":7,"x":310,"y":640},{"p":7,"x":310,"y":663},{"p":7,"x":330,"y":603},{"p":7,"x":330,"y":625},{"p":7,"x":350,"y":570},{"p":7,"x":350,"y":590},{"p":7,"x":370,"y":540},{"p":7,"x":370,"y":558},{"p":7,"x":390,"y":514},{"p":7,"x":390,"y":532},{"p":7,"x":404,"y":500},{"p":7,"x":404,"y":517},{"p":7,"x":418,"y":498},{"p":7,"x":430,"y":503},
{"p":7,"x":126,"y":870},{"p":7,"x":130,"y":890},{"p":7,"x":133,"y":898},{"p":7,"x":138,"y":910},{"p":7,"x":145,"y":920},{"p":7,"x":152,"y":924},{"p":7,"x":160,"y":925},{"p":7,"x":170,"y":918},{"p":7,"x":180,"y":903},{"p":7,"x":192,"y":885},{"p":7,"x":205,"y":862},{"p":7,"x":218,"y":835},{"p":7,"x":232,"y":806},{"p":7,"x":248,"y":775},{"p":7,"x":264,"y":742},{"p":7,"x":282,"y":706},{"p":7,"x":300,"y":670},{"p":7,"x":320,"y":633},{"p":7,"x":340,"y":597},{"p":7,"x":360,"y":565},{"p":7,"x":380,"y":536},{"p":7,"x":397,"y":515},{"p":7,"x":412,"y":505},{"p":7,"x":424,"y":508},{"p":7,"x":438,"y":518},
{"p":7,"x":450,"y":530},{"p":7,"x":475,"y":550},{"p":7,"x":500,"y":575},{"p":7,"x":530,"y":600},{"p":7,"x":560,"y":630},{"p":7,"x":590,"y":660},{"p":7,"x":625,"y":690},{"p":7,"x":660,"y":720},{"p":7,"x":700,"y":760},{"p":7,"x":750,"y":810},{"p":7,"x":800,"y":855},{"p":7,"x":860,"y":910},{"p":7,"x":929,"y":975},{"p":7,"x":980,"y":995},{"p":7,"x":465,"y":555},{"p":7,"x":515,"y":600},{"p":7,"x":575,"y":660},{"p":7,"x":640,"y":715},
{"p":7,"x":300,"y":950},{"p":7,"x":330,"y":900},{"p":7,"x":360,"y":980},{"p":7,"x":380,"y":850},{"p":7,"x":400,"y":920},{"p":7,"x":420,"y":800},{"p":7,"x":440,"y":960},{"p":7,"x":460,"y":700},{"p":7,"x":480,"y":880},{"p":7,"x":500,"y":760},{"p":7,"x":520,"y":950},{"p":7,"x":540,"y":650},{"p":7,"x":560,"y":820},{"p":7,"x":580,"y":990},{"p":7,"x":600,"y":720},{"p":7,"x":620,"y":900},{"p":7,"x":650,"y":780},{"p":7,"x":680,"y":960},{"p":7,"x":700,"y":850},{"p":7,"x":720,"y":850},{"p":7,"x":750,"y":930},{"p":7,"x":780,"y":880},{"p":7,"x":800,"y":990},{"p":7,"x":830,"y":920},{"p":7,"x":860,"y":960},{"p":7,"x":900,"y":980},{"p":7,"x":940,"y":990},{"p":7,"x":460,"y":600},{"p":7,"x":520,"y":700},{"p":7,"x":380,"y":720},{"p":7,"x":340,"y":790},{"p":7,"x":280,"y":880},{"p":7,"x":260,"y":960},{"p":7,"x":240,"y":900},{"p":7,"x":220,"y":960},{"p":7,"x":200,"y":990},{"p":7,"x":430,"y":640},{"p":7,"x":480,"y":620},{"p":7,"x":550,"y":700},{"p":7,"x":600,"y":800},{"p":7,"x":650,"y":900},{"p":7,"x":700,"y":980},{"p":7,"x":880,"y":980},{"p":7,"x":760,"y":900},{"p":7,"x":660,"y":780},{"p":7,"x":400,"y":780},{"p":7,"x":350,"y":850},
{"p":8,"x":52,"y":985},{"p":8,"x":52.5,"y":940},{"p":8,"x":52,"y":880},{"p":8,"x":53,"y":830},{"p":8,"x":52,"y":770},{"p":8,"x":52.5,"y":720},{"p":8,"x":52,"y":660},{"p":8,"x":52,"y":610},{"p":8,"x":53,"y":560},{"p":8,"x":52,"y":510},{"p":8,"x":52.5,"y":470},{"p":8,"x":52,"y":430},{"p":8,"x":52,"y":395},{"p":8,"x":53,"y":360},{"p":8,"x":52,"y":330},{"p":8,"x":52.5,"y":300},{"p":8,"x":52,"y":270},{"p":8,"x":52,"y":245},{"p":8,"x":53,"y":220},{"p":8,"x":52,"y":200},{"p":8,"x":52.5,"y":180},{"p":8,"x":52,"y":162},{"p":8,"x":52,"y":146},{"p":8,"x":53,"y":132},{"p":8,"x":52,"y":120},{"p":8,"x":52.5,"y":108},{"p":8,"x":52,"y":98},{"p":8,"x":52,"y":89},{"p":8,"x":53,"y":82},{"p":8,"x":52,"y":76},
{"p":8,"x":77,"y":980},{"p":8,"x":76,"y":930},{"p":8,"x":78,"y":890},{"p":8,"x":77,"y":840},{"p":8,"x":79,"y":790},{"p":8,"x":76,"y":745},{"p":8,"x":78,"y":700},{"p":8,"x":77,"y":650},{"p":8,"x":79,"y":600},{"p":8,"x":76,"y":555},{"p":8,"x":78,"y":510},{"p":8,"x":77,"y":470},{"p":8,"x":76,"y":430},{"p":8,"x":79,"y":395},{"p":8,"x":77,"y":360},{"p":8,"x":78,"y":330},{"p":8,"x":76,"y":300},{"p":8,"x":77,"y":270},{"p":8,"x":79,"y":245},{"p":8,"x":78,"y":220},{"p":8,"x":76,"y":200},{"p":8,"x":77,"y":182},{"p":8,"x":78,"y":168},{"p":8,"x":80,"y":150},{"p":8,"x":79,"y":135},{"p":8,"x":78,"y":120},{"p":8,"x":80,"y":112},{"p":8,"x":96,"y":163},{"p":8,"x":92,"y":175},
{"p":8,"x":104,"y":990},{"p":8,"x":110,"y":960},{"p":8,"x":114,"y":920},{"p":8,"x":106,"y":890},{"p":8,"x":112,"y":860},{"p":8,"x":108,"y":820},{"p":8,"x":115,"y":790},{"p":8,"x":103,"y":760},{"p":8,"x":110,"y":730},{"p":8,"x":113,"y":690},{"p":8,"x":107,"y":660},{"p":8,"x":111,"y":630},{"p":8,"x":115,"y":600},{"p":8,"x":105,"y":570},{"p":8,"x":109,"y":540},{"p":8,"x":114,"y":510},{"p":8,"x":106,"y":480},{"p":8,"x":112,"y":450},{"p":8,"x":108,"y":420},{"p":8,"x":113,"y":395},{"p":8,"x":104,"y":370},{"p":8,"x":110,"y":345},{"p":8,"x":115,"y":320},{"p":8,"x":107,"y":300},{"p":8,"x":111,"y":280},{"p":8,"x":114,"y":260},{"p":8,"x":106,"y":240},{"p":8,"x":110,"y":222},{"p":8,"x":113,"y":205},{"p":8,"x":108,"y":190},{"p":8,"x":112,"y":175},{"p":8,"x":110,"y":160},{"p":8,"x":114,"y":150},{"p":8,"x":108,"y":142},{"p":8,"x":112,"y":135},
{"p":8,"x":68,"y":77},{"p":8,"x":69,"y":80},{"p":8,"x":70,"y":83},{"p":8,"x":72,"y":88},{"p":8,"x":73,"y":93},{"p":8,"x":75,"y":97},{"p":8,"x":77,"y":100},{"p":8,"x":79,"y":103},{"p":8,"x":81,"y":105},{"p":8,"x":84,"y":108},{"p":8,"x":87,"y":110},{"p":8,"x":91,"y":113},{"p":8,"x":95,"y":117},{"p":8,"x":99,"y":121},{"p":8,"x":103,"y":125},{"p":8,"x":106,"y":128},
{"p":8,"x":126,"y":845},{"p":8,"x":126,"y":875},{"p":8,"x":126,"y":905},{"p":8,"x":130,"y":865},{"p":8,"x":130,"y":895},{"p":8,"x":130,"y":925},{"p":8,"x":135,"y":881},{"p":8,"x":135,"y":912},{"p":8,"x":135,"y":944},{"p":8,"x":141,"y":894},{"p":8,"x":141,"y":925},{"p":8,"x":141,"y":957},{"p":8,"x":148,"y":900},{"p":8,"x":148,"y":932},{"p":8,"x":148,"y":965},{"p":8,"x":156,"y":903},{"p":8,"x":156,"y":935},{"p":8,"x":156,"y":968},{"p":8,"x":165,"y":900},{"p":8,"x":165,"y":932},{"p":8,"x":165,"y":965},{"p":8,"x":175,"y":891},{"p":8,"x":175,"y":922},{"p":8,"x":175,"y":954},{"p":8,"x":186,"y":874},{"p":8,"x":186,"y":905},{"p":8,"x":186,"y":937},{"p":8,"x":198,"y":855},{"p":8,"x":198,"y":885},{"p":8,"x":198,"y":916},{"p":8,"x":211,"y":831},{"p":8,"x":211,"y":860},{"p":8,"x":211,"y":890},{"p":8,"x":225,"y":804},{"p":8,"x":225,"y":832},{"p":8,"x":225,"y":861},{"p":8,"x":240,"y":773},{"p":8,"x":240,"y":800},{"p":8,"x":240,"y":828},{"p":8,"x":256,"y":742},{"p":8,"x":256,"y":768},{"p":8,"x":256,"y":795},{"p":8,"x":273,"y":708},{"p":8,"x":273,"y":733},{"p":8,"x":273,"y":759},{"p":8,"x":291,"y":673},{"p":8,"x":291,"y":697},{"p":8,"x":291,"y":721},{"p":8,"x":310,"y":638},{"p":8,"x":310,"y":660},{"p":8,"x":310,"y":683},{"p":8,"x":330,"y":601},{"p":8,"x":330,"y":622},{"p":8,"x":330,"y":644},{"p":8,"x":350,"y":567},{"p":8,"x":350,"y":587},{"p":8,"x":350,"y":608},{"p":8,"x":370,"y":536},{"p":8,"x":370,"y":555},{"p":8,"x":370,"y":574},{"p":8,"x":390,"y":510},{"p":8,"x":390,"y":528},{"p":8,"x":390,"y":546},{"p":8,"x":405,"y":495},{"p":8,"x":405,"y":512},{"p":8,"x":405,"y":530},{"p":8,"x":418,"y":491},{"p":8,"x":418,"y":508},{"p":8,"x":418,"y":526},{"p":8,"x":430,"y":495},{"p":8,"x":430,"y":512},
{"p":8,"x":133,"y":905},{"p":8,"x":145,"y":930},{"p":8,"x":160,"y":935},{"p":8,"x":170,"y":928},{"p":8,"x":180,"y":915},{"p":8,"x":192,"y":896},{"p":8,"x":205,"y":873},{"p":8,"x":218,"y":847},{"p":8,"x":232,"y":817},{"p":8,"x":248,"y":785},{"p":8,"x":264,"y":752},{"p":8,"x":282,"y":716},{"p":8,"x":300,"y":680},{"p":8,"x":320,"y":642},{"p":8,"x":340,"y":605},{"p":8,"x":360,"y":572},{"p":8,"x":380,"y":542},{"p":8,"x":397,"y":520},{"p":8,"x":412,"y":510},{"p":8,"x":424,"y":505},
{"p":8,"x":445,"y":520},{"p":8,"x":460,"y":530},{"p":8,"x":480,"y":545},{"p":8,"x":500,"y":560},{"p":8,"x":520,"y":575},{"p":8,"x":545,"y":595},{"p":8,"x":570,"y":615},{"p":8,"x":600,"y":640},{"p":8,"x":630,"y":665},{"p":8,"x":663,"y":693},{"p":8,"x":700,"y":725},{"p":8,"x":740,"y":760},{"p":8,"x":780,"y":800},{"p":8,"x":820,"y":840},{"p":8,"x":846,"y":870},{"p":8,"x":880,"y":900},{"p":8,"x":920,"y":935},{"p":8,"x":960,"y":970},{"p":8,"x":990,"y":995},{"p":8,"x":455,"y":545},{"p":8,"x":490,"y":570},{"p":8,"x":530,"y":600},{"p":8,"x":580,"y":640},{"p":8,"x":640,"y":690},{"p":8,"x":700,"y":745},{"p":8,"x":760,"y":800},{"p":8,"x":820,"y":855},{"p":8,"x":880,"y":915},{"p":8,"x":940,"y":965},
{"p":8,"x":170,"y":985},{"p":8,"x":200,"y":960},{"p":8,"x":230,"y":990},{"p":8,"x":260,"y":930},{"p":8,"x":290,"y":970},{"p":8,"x":310,"y":880},{"p":8,"x":330,"y":940},{"p":8,"x":350,"y":800},{"p":8,"x":370,"y":900},{"p":8,"x":390,"y":700},{"p":8,"x":400,"y":980},{"p":8,"x":420,"y":850},{"p":8,"x":440,"y":620},{"p":8,"x":450,"y":760},{"p":8,"x":470,"y":920},{"p":8,"x":490,"y":680},{"p":8,"x":500,"y":840},{"p":8,"x":520,"y":990},{"p":8,"x":540,"y":640},{"p":8,"x":560,"y":780},{"p":8,"x":580,"y":900},{"p":8,"x":600,"y":720},{"p":8,"x":620,"y":960},{"p":8,"x":640,"y":830},{"p":8,"x":660,"y":760},{"p":8,"x":680,"y":900},{"p":8,"x":700,"y":990},{"p":8,"x":720,"y":820},{"p":8,"x":740,"y":940},{"p":8,"x":760,"y":860},{"p":8,"x":780,"y":990},{"p":8,"x":800,"y":900},{"p":8,"x":830,"y":960},{"p":8,"x":860,"y":930},{"p":8,"x":890,"y":990},{"p":8,"x":920,"y":985},{"p":8,"x":950,"y":995},{"p":8,"x":410,"y":600},{"p":8,"x":460,"y":640},{"p":8,"x":520,"y":700},{"p":8,"x":570,"y":690},{"p":8,"x":610,"y":800},{"p":8,"x":650,"y":860},{"p":8,"x":700,"y":860},{"p":8,"x":750,"y":900},{"p":8,"x":860,"y":990},{"p":8,"x":330,"y":780},{"p":8,"x":280,"y":860},{"p":8,"x":250,"y":900},{"p":8,"x":210,"y":940},
{"p":8,"x":180,"y":960},{"p":8,"x":215,"y":985},{"p":8,"x":245,"y":970},{"p":8,"x":300,"y":990},{"p":8,"x":340,"y":960},{"p":8,"x":380,"y":940},{"p":8,"x":430,"y":990},{"p":8,"x":460,"y":880},{"p":8,"x":500,"y":940},{"p":8,"x":540,"y":860},{"p":8,"x":560,"y":990},{"p":8,"x":600,"y":880},{"p":8,"x":640,"y":950},{"p":8,"x":680,"y":820},{"p":8,"x":720,"y":970},{"p":8,"x":760,"y":930},{"p":8,"x":800,"y":960},{"p":8,"x":840,"y":900},{"p":8,"x":880,"y":970},{"p":8,"x":920,"y":960},{"p":8,"x":960,"y":990},{"p":8,"x":700,"y":790},{"p":8,"x":820,"y":880},{"p":8,"x":580,"y":740},{"p":8,"x":500,"y":700},
{"p":9,"x":63,"y":64},{"p":9,"x":65,"y":70},{"p":9,"x":67,"y":75},{"p":9,"x":69,"y":80},{"p":9,"x":70,"y":86},{"p":9,"x":74,"y":92},{"p":9,"x":78,"y":97},{"p":9,"x":85,"y":107},{"p":9,"x":90,"y":113},{"p":9,"x":96,"y":120},{"p":9,"x":102,"y":127},{"p":9,"x":106,"y":132},{"p":9,"x":109,"y":150},{"p":9,"x":112,"y":170},{"p":9,"x":114,"y":185},{"p":9,"x":115,"y":202},{"p":9,"x":116,"y":240},{"p":9,"x":117,"y":280},{"p":9,"x":117,"y":321},{"p":9,"x":118,"y":380},{"p":9,"x":118,"y":430},{"p":9,"x":119,"y":500},{"p":9,"x":119,"y":580},{"p":9,"x":120,"y":650},{"p":9,"x":121,"y":700},{"p":9,"x":123,"y":780},{"p":9,"x":126,"y":873},{"p":9,"x":130,"y":900},
{"p":9,"x":130,"y":915},{"p":9,"x":136,"y":925},{"p":9,"x":143,"y":932},{"p":9,"x":150,"y":938},{"p":9,"x":160,"y":935},{"p":9,"x":170,"y":930},{"p":9,"x":180,"y":925},{"p":9,"x":190,"y":912},{"p":9,"x":201,"y":900},{"p":9,"x":215,"y":875},{"p":9,"x":235,"y":840},{"p":9,"x":250,"y":810},{"p":9,"x":269,"y":775},{"p":9,"x":285,"y":740},{"p":9,"x":300,"y":710},{"p":9,"x":315,"y":675},{"p":9,"x":328,"y":645},{"p":9,"x":345,"y":610},{"p":9,"x":360,"y":580},{"p":9,"x":375,"y":555},{"p":9,"x":385,"y":535},{"p":9,"x":398,"y":515},{"p":9,"x":410,"y":508},{"p":9,"x":425,"y":512},
{"p":9,"x":145,"y":950},{"p":9,"x":158,"y":955},{"p":9,"x":175,"y":948},{"p":9,"x":195,"y":930},{"p":9,"x":225,"y":870},{"p":9,"x":260,"y":805},{"p":9,"x":292,"y":740},{"p":9,"x":322,"y":672},{"p":9,"x":352,"y":610},{"p":9,"x":380,"y":565},{"p":9,"x":405,"y":530},
{"p":9,"x":440,"y":525},{"p":9,"x":461,"y":545},{"p":9,"x":490,"y":565},{"p":9,"x":520,"y":590},{"p":9,"x":555,"y":615},{"p":9,"x":589,"y":640},{"p":9,"x":630,"y":670},{"p":9,"x":670,"y":700},{"p":9,"x":710,"y":738},{"p":9,"x":751,"y":775},{"p":9,"x":790,"y":812},{"p":9,"x":830,"y":850},{"p":9,"x":870,"y":890},{"p":9,"x":914,"y":925},{"p":9,"x":970,"y":975},
{"p":9,"x":53,"y":698},{"p":9,"x":53,"y":267},{"p":9,"x":716,"y":944},{"p":9,"x":771,"y":909},{"p":9,"x":745,"y":960},{"p":9,"x":800,"y":940}
]},
"transform":[{"lookup":"p","from":{"data":{"values":[
{"p":1,"r":"λ₁₂ = 0.01","c":"Γₕⁱⁿᵛ"},{"p":2,"r":"λ₁₂ = 0.01","c":"Γₕⁱⁿᵛ + ID"},{"p":3,"r":"λ₁₂ = 0.01","c":"Γₕⁱⁿᵛ + ID + DD"},
{"p":4,"r":"λ₁₂ = 0.1","c":"Γₕⁱⁿᵛ"},{"p":5,"r":"λ₁₂ = 0.1","c":"Γₕⁱⁿᵛ + ID"},{"p":6,"r":"λ₁₂ = 0.1","c":"Γₕⁱⁿᵛ + ID + DD"},
{"p":7,"r":"λ₁₂ = 1","c":"Γₕⁱⁿᵛ"},{"p":8,"r":"λ₁₂ = 1","c":"Γₕⁱⁿᵛ + ID"},{"p":9,"r":"λ₁₂ = 1","c":"Γₕⁱⁿᵛ + ID + DD"}]},"key":"p","fields":["r","c"]}}],
"facet":{
"row":{"field":"r","type":"nominal","sort":["λ₁₂ = 0.01","λ₁₂ = 0.1","λ₁₂ = 1"],"title":null,"header":{"labelFont":"Liberation Serif","labelFontStyle":"normal","labelFontSize":27,"labelColor":"#000","labelAngle":-90,"labelOrient":"left","labelAlign":"left","labelPadding":56}},
"column":{"field":"c","type":"nominal","sort":["Γₕⁱⁿᵛ","Γₕⁱⁿᵛ + ID","Γₕⁱⁿᵛ + ID + DD"],"title":null,"header":{"labelFont":"Liberation Serif","labelFontStyle":"normal","labelFontSize":27,"labelColor":"#000","labelOrient":"top","labelPadding":10}}
},
"spacing":{"row":70,"column":93},
"bounds":"flush",
"resolve":{"axis":{"x":"independent","y":"independent"}},
"spec":{
"width":265,"height":258,
"layer":[
{"transform":[{"filter":"datum.a"}],
"mark":{"type":"area","color":"#c8c8c8","opacity":1},
"encoding":{
"x":{"field":"x","type":"quantitative","scale":{"type":"log","domain":[20,1000]},"axis":{"orient":"bottom","values":[20,30,40,50,60,70,80,90,100,200,300,400,500,600,700,800,900,1000],"labelExpr":"datum.value==100?'10²':datum.value==1000?'10³':''","labelFontSize":17,"labelPadding":11,"tickSize":-5,"encode":{"labels":{"update":{"fontSize":{"value":17}}}},"title":"mₛ₁ (GeV)","titleFontSize":21,"titleAnchor":"end","titleAlign":"right","titleBaseline":"middle","titleX":241,"titleY":30}},
"y":{"field":"lo","type":"quantitative","scale":{"type":"log","domain":[50,1000]},"axis":{"orient":"left","values":[50,60,70,80,90,100,200,300,400,500,600,700,800,900,1000],"labelExpr":"datum.value==100?'10²':datum.value==1000?'10³':''","labelFontSize":17,"labelPadding":6,"tickSize":-5,"encode":{"labels":{"update":{"fontSize":{"value":17}}}},"title":"mₛ₂ (GeV)","titleFontSize":21,"titleAnchor":"end","titleAlign":"right","titleBaseline":"middle","titleX":-38,"titleY":20}},
"y2":{"field":"hi"},
"detail":{"field":"a","type":"nominal"}}},
{"transform":[{"filter":"datum.g"}],
"mark":{"type":"square","size":9,"color":"#bdbdbd","opacity":1},
"encoding":{
"x":{"field":"x","type":"quantitative","scale":{"type":"log","domain":[20,1000]},"axis":{"orient":"top","values":[20,30,40,50,60,70,80,90,100,200,300,400,500,600,700,800,900,1000],"labels":false,"title":null,"tickSize":{"condition":{"test":"datum.value==100||datum.value==1000","value":-7},"value":-4}}},
"y":{"field":"y","type":"quantitative","scale":{"type":"log","domain":[50,1000]},"axis":{"orient":"right","values":[50,60,70,80,90,100,200,300,400,500,600,700,800,900,1000],"labels":false,"title":null,"tickSize":{"condition":{"test":"datum.value==100||datum.value==1000","value":-7},"value":-4}}}}},
{"transform":[{"filter":"!datum.a && !datum.g"}],
"mark":{"type":"square","size":9,"color":"#000","opacity":1},
"encoding":{
"x":{"field":"x","type":"quantitative","scale":{"type":"log","domain":[20,1000]},"axis":null},
"y":{"field":"y","type":"quantitative","scale":{"type":"log","domain":[50,1000]},"axis":null}}}
],
"resolve":{"axis":{"x":"independent","y":"independent"}}
}
}
